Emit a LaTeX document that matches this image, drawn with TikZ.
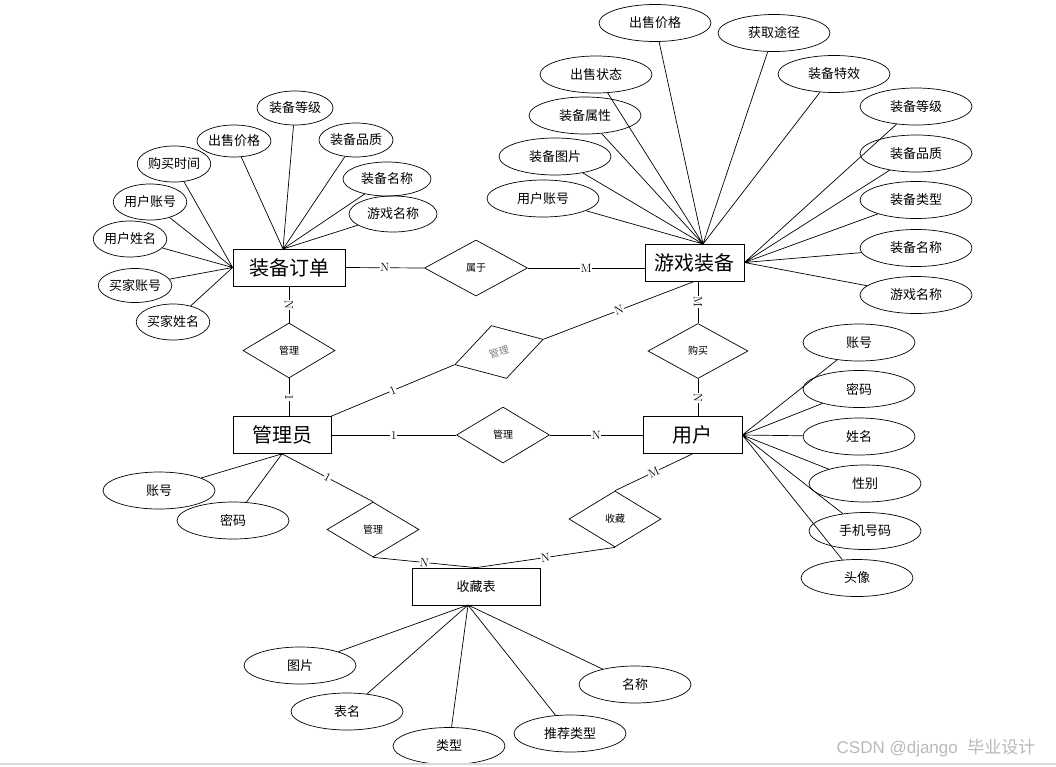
\documentclass[tikz,border=0pt]{standalone}
\usepackage{fontspec}
\usepackage{tikz}
\usetikzlibrary{shapes.geometric}
\newfontfamily\cjk{Noto Sans CJK SC}
\newfontfamily\wmark{Liberation Sans}

\begin{document}
\begin{tikzpicture}[x=1pt, y=-1pt, line width=0.7pt,
  entity/.style={draw, rectangle, minimum width=#1, minimum height=37, inner sep=0,
    font=\cjk\fontsize{20}{20}\selectfont},
  attr/.style={draw, ellipse, minimum width=112, minimum height=37, inner sep=0,
    font=\cjk\fontsize{13}{13}\selectfont},
  rel/.style={draw, diamond, minimum width=92, minimum height=55, inner sep=0,
    font=\cjk\fontsize{10}{10}\selectfont},
  card/.style={fill=white, inner sep=0.6pt, sloped, font=\fontsize{12}{12}\selectfont}]
  \useasboundingbox (0,0) rectangle (1056,766);

  \node[entity=112] (ord)   at (289,267.5) {装备订单};
  \node[entity=99]  (equip) at (694.5,262.5) {游戏装备};
  \node[entity=98]  (admin) at (282,435) {管理员};
  \node[entity=99]  (user)  at (692.5,435) {用户};
  \node[entity=128, font=\cjk\fontsize{13}{13}\selectfont] (fav) at (476,586.5) {收藏表};
  \coordinate (ordtop) at (283,249);
  \coordinate (eqtop)  at (703,244);
  \coordinate (favbot) at (468,605);

  \node[rel, minimum width=103, minimum height=56] (belong) at (476,268) {属于};
  \node[rel] (mgrA) at (289,350.5) {管理};
  \node[rel, rotate=16, text=gray] (mgrB) at (499,352) {管理};
  \node[rel, minimum width=100] (buy) at (698,351) {购买};
  \node[rel, minimum width=93, minimum height=56] (mgrC) at (503,435) {管理};
  \node[rel] (mgrD) at (373,529.5) {管理};
  \node[rel, minimum height=56] (keep) at (615,519) {收藏};

  \node[attr, minimum width=76, minimum height=34] (oa1) at (295,108) {装备等级};
  \node[attr, minimum width=74, minimum height=32] (oa2) at (234,141) {出售价格};
  \node[attr, minimum width=74, minimum height=34] (oa3) at (356,140) {装备品质};
  \node[attr, minimum width=88, minimum height=34] (oa4) at (387,179) {装备名称};
  \node[attr, minimum width=88, minimum height=36] (oa5) at (393,214) {游戏名称};
  \node[attr, minimum width=68, minimum height=36] (oa6) at (174,164) {购买时间};
  \node[attr, minimum width=68, minimum height=36] (oa7) at (150,202) {用户账号};
  \node[attr, minimum width=68, minimum height=36] (oa8) at (130,239) {用户姓名};
  \node[attr, minimum width=68, minimum height=34] (oa9) at (135,285.5) {买家账号};
  \node[attr, minimum width=70, minimum height=36] (oa10) at (173,322) {买家姓名};
  \draw (oa1) -- (ordtop) (oa2) -- (ordtop) (oa3) -- (ordtop) (oa4) -- (ordtop) (oa5) -- (ordtop);
  \draw (oa6) -- (ord.west) (oa7) -- (ord.west) (oa8) -- (ord.west) (oa9) -- (ord.west) (oa10) -- (ord.west);

  \node[attr] (ea1) at (655,23) {出售价格};
  \node[attr] (ea2) at (774,33) {获取途径};
  \node[attr] (ea3) at (596,74.5) {出售状态};
  \node[attr] (ea4) at (585,115.5) {装备属性};
  \node[attr] (ea5) at (555,156.5) {装备图片};
  \node[attr] (ea6) at (543,198.5) {用户账号};
  \node[attr] (ea7) at (834,74) {装备特效};
  \node[attr] (ea8) at (916,106.5) {装备等级};
  \node[attr] (ea9) at (916,153.5) {装备品质};
  \node[attr] (ea10) at (916,200) {装备类型};
  \node[attr] (ea11) at (916,248) {装备名称};
  \node[attr] (ea12) at (916,295) {游戏名称};
  \draw (ea1) -- (eqtop) (ea2) -- (eqtop) (ea3) -- (eqtop) (ea4) -- (eqtop) (ea5) -- (eqtop) (ea6) -- (eqtop) (ea7) -- (eqtop);
  \draw (ea8) -- (equip.east) (ea9) -- (equip.east) (ea10) -- (equip.east) (ea11) -- (equip.east) (ea12) -- (equip.east);

  \node[attr] (ua1) at (859,342.5) {账号};
  \node[attr] (ua2) at (859,389) {密码};
  \node[attr] (ua3) at (859,436.5) {姓名};
  \node[attr] (ua4) at (865,483.5) {性别};
  \node[attr] (ua5) at (865,531) {手机号码};
  \node[attr] (ua6) at (857,578) {头像};
  \draw (ua1) -- (user.east) (ua2) -- (user.east) (ua3) -- (user.east) (ua4) -- (user.east) (ua5) -- (user.east) (ua6) -- (user.east);

  \node[attr] (aa1) at (159,490.5) {账号};
  \node[attr] (aa2) at (233,520.5) {密码};
  \draw (aa1) -- (admin.south) (aa2) -- (admin.south);

  \node[attr] (fa1) at (300,665.5) {图片};
  \node[attr] (fa2) at (347,711.5) {表名};
  \node[attr] (fa3) at (449,746) {类型};
  \node[attr] (fa4) at (570,733.5) {推荐类型};
  \node[attr] (fa5) at (635,684.5) {名称};
  \draw (fa1) -- (favbot) (fa2) -- (favbot) (fa3) -- (favbot) (fa4) -- (favbot) (fa5) -- (favbot);

  \draw (ord.east) -- node[card]{N} (belong.west);
  \draw (belong.east) -- node[card]{M} (belong.east -| equip.west);
  \draw (ord.south) -- node[card]{N} (mgrA.north);
  \draw (mgrA.south) -- node[card]{1} (mgrA.south |- admin.north);
  \draw (admin.north east) -- node[card]{1} (mgrB.west);
  \draw (mgrB.east) -- node[card]{N} (equip.south);
  \draw (buy.north |- equip.south) -- node[card]{M} (buy.north);
  \draw (buy.south) -- node[card]{N} (buy.south |- user.north);
  \draw (admin.east) -- node[card]{1} (mgrC.west);
  \draw (mgrC.east) -- node[card]{N} (user.west);
  \draw (admin.south) -- node[card]{1} (mgrD.north);
  \draw (mgrD.south) -- node[card]{N} (fav.north);
  \draw (user.south) -- node[card]{M} (keep.north);
  \draw (keep.south) -- node[card]{N} (fav.north);

  \draw[gray!30, line width=1.5pt] (0,764) -- (1056,764);
  \node[font=\wmark\fontsize{17}{17}\selectfont, text=gray!55] (mark) at (936,748) {CSDN @django\ \ {\cjk 毕业设计}};
\end{tikzpicture}
\end{document}
